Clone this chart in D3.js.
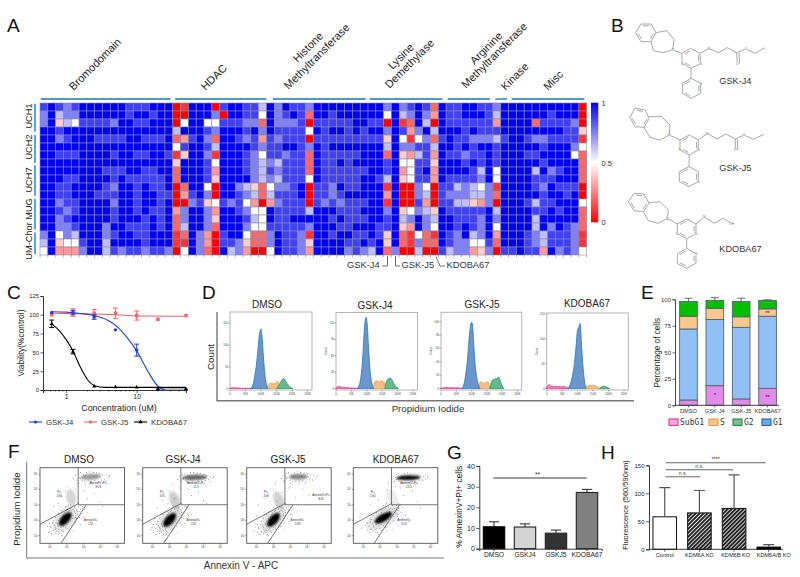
<!DOCTYPE html>
<html><head><meta charset="utf-8">
<script src="https://cdn.jsdelivr.net/npm/d3@7"></script>
<style>html,body{margin:0;padding:0;background:#fff}svg{display:block}text{font-family:"Liberation Sans",Arial,sans-serif}</style>
</head><body><svg id="c" width="800" height="577" viewBox="0 0 800 577"></svg>
<script>
// ---------- A: heat map (digit 0 red .. 5 white .. 9 blue)
const heatRowNames=["UCH1","UCH2","UCH7","MUG","UM-Chor"];
const heatRows=[
"8987899999"+"9888999019"+"9908998869"+"7988799999"+"9999797898"+"2988998879"+"9999999990",
"7967799999"+"9899899009"+"9970998859"+"7898299899"+"9999596797"+"3988999869"+"9999989990",
"7946588887"+"9988999059"+"9558887729"+"7778088888"+"9988091296"+"0988888839"+"9992888870",
"9989999999"+"9999999699"+"9879998979"+"8888598998"+"9899798379"+"6999898889"+"9999999884",
"9978999888"+"8998889238"+"9729987838"+"7888088888"+"8888495157"+"2898877768"+"9987788881",
"9999999999"+"9999999589"+"9869999878"+"8998798999"+"9999697788"+"6998989989"+"9999899975",
"9988899998"+"9988998149"+"9719998758"+"8788298888"+"8999294368"+"3988788989"+"9988999952",
"9999999999"+"9999999499"+"9859998767"+"6888298898"+"9999895588"+"4999898989"+"9999899992",
"9999999988"+"8998899299"+"9839998768"+"7888298888"+"8899893589"+"3999986959"+"9996978992",
"9998899998"+"9888889299"+"9849999767"+"6888598888"+"8998694588"+"3988887959"+"9998889992",
"9988999987"+"9989889029"+"9509976425"+"7789088798"+"8999190075"+"0886765719"+"9998798880",
"9988999888"+"9989988038"+"9709987626"+"8889088789"+"9999390076"+"0877766729"+"9999899890",
"9978899997"+"9989989007"+"8458785303"+"7888087878"+"8899190083"+"0886643709"+"9986889995",
"9987899998"+"9989889379"+"9739987559"+"8888699988"+"8999794576"+"4988888969"+"9998898992",
"9978999998"+"9998989279"+"9749998659"+"8899999898"+"8899896797"+"6998887979"+"9996999992",
"9977899979"+"9888989269"+"9729997558"+"8888799988"+"9998894397"+"5998987959"+"9996979872",
"7957699978"+"9988999129"+"7308995227"+"9887199899"+"8898492152"+"1987967939"+"9987688871",
"6945589969"+"9998999119"+"7308874227"+"9887499998"+"8989492172"+"2987755829"+"9987688871",
"5933379968"+"7887887059"+"7209673005"+"9887399997"+"8769270060"+"0867734708"+"8988397875"];
const heatGroups=[["Bromodomain"],["HDAC"],["Histone","Methyltransferase"],["Lysine","Demethylase"],["Arginine","Methyltransferase"],["Kinase"],["Misc"]];
const heatGroupSpans=[[0.1,16.7],[17.3,29],[29.8,41.7],[42.2,51.5],[52.2,57.6],[58.3,59.8],[60.4,69.7]];
const heatRowSpans=[[0.1,3.6],[4,7.5],[7.8,11.6],[12,15.8],[16.2,18.9]];
// ---------- C: dose response
const concentrations=[0.625,1.25,2.5,5,10,20,50];
const j4Mean=[103,103,97,80,53,1,1], j4Err=[0,3,3,0,8,0,0];
const j5Mean=[100,103,102,102,99,94,99], j5Err=[0,5,5,7,6,0,0];
const kdMean=[88,51,5,4,3.5,1,1], kdErr=[5,3,0,0,0,0,0];
const j4CurveX=[0.625,1,1.5,2.5,4,5,7,10,14,20,25], j4CurveY=[104,103.5,102,99,92,86,72,52,27,5,0];
const j5CurveX=[0.625,1.25,5,10,50], j5CurveY=[102,101.5,100,98.5,98];
const kdCurveX=[0.625,0.8,1,1.25,1.6,2,2.5,3.5,5,10,20,50], kdCurveY=[88,79,67,52,30,14,6,3.5,3.5,3.5,3.5,3.5];
// ---------- D: cell-cycle histograms
const cyclePanels=["DMSO","GSK-J4","GSK-J5","KDOBA67"];
const histYMax=[176,139,114,152];
const histYTicks=[[0,50,100,150],[0,30,60,90,120],[0,20,40,60,80,100],[0,50,100,150]];
const g1X=[[65,70,75,80,85,90,95,100,103,108,112,117,122],[68,73,78,83,87,91,95,98,101,106,110,116,122],[68,72,77,82,87,91,96,100,103,108,113,120,127],[68,73,78,84,90,95,100,105,108,113,118,123,127]];
const g1Y=[[0,3,12,30,55,90,125,137,120,70,35,10,0],[0,3,12,32,60,100,126,130,118,70,35,10,0],[0,2,10,25,45,70,92,99,95,60,30,10,0],[0,3,12,28,52,85,118,125,131,85,40,12,0]];
const sX=[[118,125,132,140,148,155,160],[120,127,134,141,148,156,163],[122,128,134,140,146,153,160],[125,132,140,150,158,165,172]];
const sY=[[0,10,12,11,13,16,0],[0,13,14,12,14,11,0],[0,9,10,7,9,10,0],[0,6,6.6,6,5.5,3,0]];
const g2X=[[150,158,165,172,178,185,192,203],[158,163,168,175,180,186,193,203],[160,167,175,183,190,195,200,206],[170,175,180,185,190,195,200,205]];
const g2Y=[[0,8,17,23,18,10,4,0],[0,12,17,19,17,10,4,0],[0,12,14,15,16.5,10,4,0],[0,2,4,5,4,2,1,0]];
const subX=[0,8,15,25,35,45,55,65,72];
const subY=[[0.5,2,1.5,1,0.5,0.5,0.5,0.5,0],[1,4,3,1.5,1.5,1,1,0.5,0],[0.5,1,1.5,1,1,1,1,0.5,0],[2,8,5,4,4,3.5,4,2,0]];
const histXTicks=[0,50,100,150,200,250];
// ---------- E: stacked bars
const stackLabels=["DMSO","GSK-J4","GSK-J5","KDOBA67"];
const subG1=[5,18.5,6,16], g1=[67,62.5,67.5,68], sPhase=[12,10.5,10,7], g2Phase=[14,7.5,14.5,8];
const subG1Err=[3,6,2,0.6], g1Err=[1,3,1,0.5], sErr=[1,1,1,0.6], g2Err=[3,2.5,3,0.5];
const stackStars=[["","",""],["*","",""],["","",""],["**","","**"]];
const stackLegend=["SubG1","S","G2","G1"];
// ---------- F: annexin / PI flow plots (decades)
const flowPanels=["DMSO","GSK-J4","GSK-J5","KDOBA67"];
const flowPi=["4.66","3.85","4.08","2.60"], flowDouble=["8.19","11.3","9.65","26.3"], flowAnnex=["1.31","2.65","2.69","6.59"];
const flowBlobs=[
[[1.9,2.08,0.5,0.27,-48,1],[1.9,2.08,0.95,0.62,-48,0.1],[2.25,3.5,0.3,0.55,-10,0.16],[3.4,4.82,0.62,0.2,-4,0.38]],
[[2.0,2.03,0.5,0.27,-48,1],[2.0,2.03,0.95,0.62,-48,0.1],[2.3,3.3,0.3,0.6,-20,0.2],[3.48,4.78,0.74,0.19,-2,0.58]],
[[1.99,2.03,0.5,0.27,-48,1],[1.99,2.03,0.95,0.62,-48,0.1],[2.3,3.3,0.3,0.6,-20,0.18],[3.46,4.82,0.56,0.19,-2,0.46]],
[[2.18,2.17,0.58,0.24,-30,1],[2.18,2.17,1.1,0.6,-30,0.1],[2.7,3.5,0.3,0.6,-30,0.08],[3.66,4.76,0.72,0.16,-2,0.95]]];
const flowDots=[
[[0.9,1.2],[1.1,2.2],[1.3,1.4],[1.5,1.1],[0.8,2.0],[1.7,1.0],[2.1,1.2],[2.4,1.3],[2.8,1.7],[3.0,2.2],[2.9,2.8],[3.2,2.5],[3.4,1.9],[1.2,2.9],[1.5,3.1],[1.9,3.9],[2.0,4.2],[2.5,4.0],[2.6,4.4],[3.0,3.9],[3.2,3.4],[3.6,3.7],[3.8,4.2],[4.3,4.6],[4.5,4.9],[2.8,4.7],[3.9,3.2],[4.1,2.9],[3.1,4.3],[3.5,4.3],[1.0,1.6],[1.6,1.7],[2.6,2.1],[2.2,3.0],[2.0,2.9]],
[[0.9,1.4],[1.1,2.1],[1.4,1.3],[1.6,1.0],[0.8,1.9],[1.8,1.1],[2.2,1.3],[2.5,1.2],[2.9,1.8],[3.1,2.3],[3.0,2.9],[3.3,2.4],[3.5,2.0],[1.3,2.8],[1.6,3.3],[2.0,3.9],[2.2,4.3],[2.6,4.1],[2.7,4.5],[3.1,4.0],[3.3,3.6],[3.7,3.8],[3.9,4.3],[4.4,4.5],[4.6,4.8],[2.8,4.7],[4.0,3.3],[4.2,3.1],[3.2,4.4],[3.6,4.4],[1.0,1.7],[1.7,1.6],[2.7,2.2],[2.3,3.4],[1.9,3.1]],
[[0.8,1.3],[1.0,2.3],[1.3,1.2],[1.5,1.3],[0.9,1.8],[1.7,1.0],[2.3,1.2],[2.6,1.4],[2.9,1.9],[3.0,2.4],[2.9,2.7],[3.4,2.6],[3.6,1.8],[1.1,3.0],[1.5,3.4],[2.0,4.0],[2.1,4.4],[2.5,3.8],[2.6,4.5],[2.9,4.1],[3.3,3.5],[3.7,4.0],[3.9,4.4],[4.3,4.6],[4.7,3.4],[2.7,4.8],[3.9,3.0],[4.1,3.6],[3.0,4.4],[3.5,4.4],[1.1,1.5],[1.7,1.8],[2.6,2.3],[2.2,3.2],[1.9,3.0]],
[[0.9,1.5],[1.2,2.4],[1.4,1.4],[1.7,1.2],[0.8,2.2],[1.9,1.1],[2.4,1.3],[2.7,1.4],[3.1,1.7],[3.3,2.1],[3.1,2.8],[3.5,2.3],[3.7,1.9],[1.4,3.0],[1.9,3.3],[2.4,4.0],[2.5,4.4],[2.9,4.2],[2.8,4.5],[3.2,4.1],[3.4,3.6],[3.9,3.9],[4.1,4.3],[4.5,4.6],[4.7,4.9],[2.9,4.8],[4.2,3.2],[4.4,2.8],[3.4,4.4],[3.8,4.3],[1.2,1.8],[1.8,1.9],[3.0,2.4],[2.7,3.0],[2.3,3.0]]];
// hand-placed speckle around the two clusters (offsets in decades from each cluster centre)
const coreSpeckle=[[-0.95,-0.8],[-0.8,-0.95],[-0.85,-0.55],[-0.7,-0.75],[-0.65,-0.4],[-0.6,-0.9],[-0.55,-0.6],[-0.5,-0.25],[-0.5,-0.78],[-0.42,-0.45],[-0.4,-0.1],[-0.38,-0.68],[-0.3,-0.3],[-0.3,0.05],[-0.25,-0.55],[-0.2,-0.72],[-0.18,0.2],[-0.12,0.32],[-0.1,-0.45],[-0.05,0.45],[0,-0.52],[0.05,0.55],[0.1,-0.35],[0.12,0.62],[0.2,-0.22],[0.22,0.5],[0.3,0.7],[0.32,-0.12],[0.38,0.4],[0.42,0.05],[0.45,0.62],[0.5,0.22],[0.55,0.78],[0.6,0.38],[0.62,0.1],[0.68,0.6],[0.72,0.3],[0.78,0.78],[0.82,0.5],[0.88,0.9],[0.92,0.62],[1.0,0.82],[-1.05,-0.5],[-0.95,-0.3],[-0.72,-0.12],[-0.58,0.12],[-0.4,0.35],[-0.22,0.55],[0.02,0.78],[0.2,0.92],[-0.35,-0.95],[-0.1,-0.82],[0.15,-0.62],[0.4,-0.4],[0.62,-0.2],[0.85,0.1],[1.05,0.35],[1.15,0.65],[-0.75,-0.28],[-0.28,-0.18],[0.28,0.2],[0.55,0.52],[-0.6,-0.52],[-0.45,-0.32],[0.35,0.55],[0.7,0.48]];
const topSpeckle=[[-1.0,-0.12],[-0.9,0.1],[-0.82,-0.22],[-0.72,0.2],[-0.65,-0.05],[-0.58,0.28],[-0.5,-0.25],[-0.42,0.12],[-0.35,-0.3],[-0.25,0.3],[-0.15,-0.28],[-0.05,0.32],[0.05,-0.32],[0.15,0.28],[0.25,-0.25],[0.35,0.25],[0.45,-0.3],[0.55,0.2],[0.65,-0.2],[0.72,0.12],[0.82,-0.15],[0.92,0.08],[1.02,-0.08],[1.12,0.05],[-0.3,0.05],[0.2,0.02],[0.6,-0.02],[-0.7,-0.12]];
const flowTicks=[1,2,3,4,5];
// ---------- G
const annexCats=["DMSO","GSKJ4","GSKJ5","KDOBA67"], annexVals=[10.6,10.5,7.5,27.2], annexErr=[2.4,1.5,1.5,1.5];
const annexFills=["#000","#d4d4d4","#333","#808080"];
// ---------- H
const fluorCats=["Control","KDM6A KO","KDM6B KO","KDM6A/B KO"], fluorVals=[58,65,73,4], fluorTop=[110,105,133,8.5];
const fluorSig=[["n.s.",1,125],["n.s.",2,138],["****",3,150]];

// ============ drawing ============
const svg=d3.select("#c");
const defs=svg.append("defs");
const txt=(t,x,y,size,opt={})=>{const e=svg.append("text").attr("x",x).attr("y",y).attr("font-size",size).attr("fill",opt.fill||"#222").attr("text-anchor",opt.anchor||"start").text(t);
 if(opt.rot!=null)e.attr("transform",`rotate(${opt.rot} ${x} ${y})`); if(opt.fam)e.style("font-family",opt.fam); return e;};
[["A",7,32],["B",611,32],["C",7,299],["D",202,299],["E",641,299],["F",8,458],["G",447,459],["H",601,459]].forEach(d=>txt(d[0],d[1],d[2],19,{fill:"#111"}));

// --- A
const cellW=7.81,cellH=8.0,hx0=40,hy0=103;
const heatX=d3.scaleLinear().domain([0,70]).range([hx0,hx0+70*cellW]);
const heatY=d3.scaleLinear().domain([0,19]).range([hy0,hy0+19*cellH]);
const digitValue=d=>d<=5?d/10:0.5+(d-5)/8;
const heatColor=d3.scaleLinear().domain([0,0.5,1]).range(["#ff0000","#ffffff","#0000f4"]);
const heatCells=heatRows.flatMap((r,i)=>r.split("").map((c,j)=>({i,j,v:digitValue(+c)})));
svg.append("g").selectAll("rect").data(heatCells).join("rect")
 .attr("x",d=>heatX(d.j)).attr("y",d=>heatY(d.i)).attr("width",cellW).attr("height",cellH)
 .attr("fill",d=>heatColor(d.v)).attr("stroke","#8a8aa0").attr("stroke-width",0.6);
svg.append("g").selectAll("line").data(d3.range(71)).join("line").attr("x1",d=>heatX(d)).attr("x2",d=>heatX(d)).attr("y1",255).attr("y2",257.5).attr("stroke","#999").attr("stroke-width",0.7);
const barBlue="#4b9bcf";
heatGroupSpans.forEach(s=>svg.append("line").attr("x1",heatX(s[0])).attr("x2",heatX(s[1])).attr("y1",99).attr("y2",99).attr("stroke",barBlue).attr("stroke-width",1.8));
heatRowSpans.forEach(s=>svg.append("line").attr("x1",35).attr("x2",35).attr("y1",heatY(s[0])).attr("y2",heatY(s[1])).attr("stroke",barBlue).attr("stroke-width",1.8));
const rowLabelY=[116,147,180,209,241];
heatRowNames.forEach((n,i)=>txt(n,32,rowLabelY[i],9.2,{anchor:"middle",rot:-90}));
const groupLabelPos=[[[73.5,91]],[[205.5,91]],[[297.5,63],[288.5,90]],[[392.5,70],[389.5,89]],[[474.5,65],[466,89]],[[505.5,91]],[[548,91]]];
heatGroups.forEach((lines,g)=>lines.forEach((l,k)=>txt(l,groupLabelPos[g][k][0],groupLabelPos[g][k][1],11,{rot:-45})));
// colour bar
const grad=defs.append("linearGradient").attr("id","cbar").attr("x1",0).attr("x2",0).attr("y1",0).attr("y2",1);
[1,0.5,0].forEach(v=>grad.append("stop").attr("offset",1-v).attr("stop-color",heatColor(v)));
svg.append("rect").attr("x",591).attr("y",102.7).attr("width",7.3).attr("height",119.6).attr("fill","url(#cbar)");
const cbarY=d3.scaleLinear().domain([0,1]).range([222,103]);
[[1,"1"],[0.5,"0.5"],[0,"0"]].forEach(d=>txt(d[1],601.5,cbarY(d[0])+3,7.5,{fill:"#333"}));
// callouts
txt("GSK-J4",347,268,9.3,{fill:"#333"}); txt("GSK-J5",401.5,268,9.3,{fill:"#333"}); txt("KDOBA67",446.5,268,9.3,{fill:"#333"});
[[[387.5,256],[387.5,266],[382,266]],[[395.5,256],[395.5,266],[400,266]],[[436,256.5],[440,266],[445,266]]].forEach(p=>svg.append("path").attr("d",d3.line()(p)).attr("fill","none").attr("stroke","#333").attr("stroke-width",0.7));

// --- B molecules (outline in reference pixels)
const molStroke="#a8a8a8";
const molG=svg.append("g").attr("transform","translate(590,0) scale(0.3333)").attr("fill","none").attr("stroke",molStroke).attr("stroke-width",3);
const ring=(pts,doubles)=>{molG.append("path").attr("d",d3.line()(pts)+"Z");
 const c=[d3.mean(pts,p=>p[0]),d3.mean(pts,p=>p[1])],n=pts.length;
 doubles.forEach(i=>{const a=pts[i],b=pts[(i+1)%n],sh=p=>[p[0]+(c[0]-p[0])*0.2,p[1]+(c[1]-p[1])*0.2];const A=sh(a),B=sh(b);
  molG.append("line").attr("x1",A[0]+(B[0]-A[0])*.12).attr("y1",A[1]+(B[1]-A[1])*.12).attr("x2",B[0]-(B[0]-A[0])*.12).attr("y2",B[1]-(B[1]-A[1])*.12);});};
const path=pts=>molG.append("path").attr("d",d3.line()(pts));
const atom=(p,t)=>{svg.append("circle").attr("cx",590+p[0]/3).attr("cy",p[1]/3).attr("r",1.5).attr("fill","#fff");
 txt(t,590+p[0]/3,p[1]/3+1.2,3.4,{anchor:"middle",fill:"#666"});};
const mols=[
 {benz:[[153,72],[183,72],[198,98],[183,125],[153,125],[137,98]],aze:[[198,98],[230,92],[252,118],[248,150],[218,158],[190,152],[183,125]],py:[[275,160],[302,145],[330,160],[332,190],[303,205],[277,190]],pd:[[303,235],[332,250],[332,280],[303,295],[278,280],[278,250]],
  chain:[[330,160],[357,145],[385,158],[412,143],[440,158],[468,147],[495,160],[525,143]],co:[[440,158],[442,190]],nPd:1,o:5},
 {benz:[[135,325],[165,330],[178,355],[162,382],[135,380],[120,352]],aze:[[178,350],[215,350],[240,375],[238,405],[210,420],[180,412],[162,382]],py:[[270,420],[298,405],[325,420],[325,450],[298,465],[270,450]],pd:[[297,500],[325,515],[325,545],[297,560],[268,545],[268,515]],
  chain:[[325,420],[352,400],[380,417],[408,402],[436,417],[462,405],[490,418],[522,403]],co:[[436,417],[436,450]],nPd:2,o:5},
 {benz:[[132,580],[162,582],[177,610],[160,635],[132,632],[115,605]],aze:[[177,608],[210,605],[235,630],[232,655],[205,670],[175,662],[160,635]],py:[[262,672],[290,657],[318,672],[318,700],[290,717],[262,700]],pd:[[290,745],[318,762],[318,790],[290,805],[262,790],[262,762]],
  chain:[[318,672],[343,650],[372,670],[400,655],[425,670]],co:null,nPd:1,o:null}];
mols.forEach(m=>{ring(m.benz,[0,2,4]);path(m.aze);ring(m.py,[0,2,4]);ring(m.pd,[1,3,5]);path(m.chain);path([m.aze[3],m.py[0]]);path([m.py[4],m.pd[0]]);
 if(m.co){path(m.co);path(m.co.map(p=>[p[0]+7,p[1]]));}
 atom(m.aze[3],"N");atom(m.py[3],"N");atom(m.py[5],"N");atom(m.pd[m.nPd],"N");atom(m.chain[1],"N");
 if(m.o){atom(m.chain[m.o],"O");atom(m.co[1],"O");}});
atom(mols[2].chain[4],"OH");
txt("GSK-J4",719.3,84,9.2,{fill:"#333"}); txt("GSK-J5",719.3,171,9.2,{fill:"#333"}); txt("KDOBA67",719.3,252,9.2,{fill:"#333"});

// --- axis styling
const styleAxis=(g,fs,col="#222",sw=0.9)=>{g.selectAll("path").attr("stroke",col).attr("stroke-width",sw);g.selectAll("line").attr("stroke",col).attr("stroke-width",sw*0.8);g.selectAll("text").attr("font-size",fs).attr("fill",col).style("font-family",'"Liberation Sans",Arial,sans-serif');return g;};

// --- C
const cx=d3.scaleLog().domain([0.47,50]).range([43,186]);
const cy=d3.scaleLinear().domain([0,125]).range([390,296]);
styleAxis(svg.append("g").attr("transform","translate(43,0)").call(d3.axisLeft(cy).tickValues([0,25,50,75,100,125]).tickSize(2.5).tickPadding(1.5)),5.8);
styleAxis(svg.append("g").attr("transform","translate(0,390)").call(d3.axisBottom(cx).tickValues([1,10]).tickFormat(d3.format("d")).tickSize(3).tickPadding(1.5)),6.5);
const minorC=[0.5,0.6,0.7,0.8,0.9,2,3,4,5,6,7,8,9,20,30,40,50];
svg.append("g").selectAll("line").data(minorC).join("line").attr("x1",d=>cx(d)).attr("x2",d=>cx(d)).attr("y1",390).attr("y2",391.7).attr("stroke","#222").attr("stroke-width",0.6);
const cLine=d3.line().x(d=>cx(d[0])).y(d=>cy(d[1])).curve(d3.curveMonotoneX);
svg.append("rect").attr("x",cx(20)).attr("width",cx(50)-cx(20)).attr("y",cy(3.5)).attr("height",cy(0)-cy(3.5)).attr("fill","#b8b8b8");
const cSeries=[["#ff6060",j5CurveX,j5CurveY,j5Mean,j5Err,"square"],["#1f3fe0",j4CurveX,j4CurveY,j4Mean,j4Err,"circle"],["#000",kdCurveX,kdCurveY,kdMean,kdErr,"triangle"]];
cSeries.forEach(([col,xs,ys,m,e,sym])=>{
 svg.append("path").attr("d",cLine(xs.map((x,i)=>[x,ys[i]]))).attr("fill","none").attr("stroke",col).attr("stroke-width",1.1);
 concentrations.forEach((c,i)=>{const X=cx(c);
  if(e[i]>0){const p=`M${X},${cy(m[i]-e[i])}V${cy(m[i]+e[i])}M${X-2.5},${cy(m[i]-e[i])}h5M${X-2.5},${cy(m[i]+e[i])}h5`;svg.append("path").attr("d",p).attr("stroke",col).attr("stroke-width",1).attr("fill","none");}
  svg.append("path").attr("d",d3.symbol().type(sym==="square"?d3.symbolSquare:sym==="circle"?d3.symbolCircle:d3.symbolTriangle).size(sym==="square"?12:sym==="triangle"?7:9)()).attr("transform",`translate(${X},${cy(m[i])})`).attr("fill",col);});});
txt("Concentration (uM)",119,411,8.8,{anchor:"middle"}); txt("Viability(%control)",24,343,8.4,{anchor:"middle",rot:-90});
[[29,46,"#1f3fe0","GSK-J4",d3.symbolCircle],[84,101,"#ff6060","GSK-J5",d3.symbolSquare],[134,151,"#000","KDOBA67",d3.symbolTriangle]].forEach(([a,b,c,t,s])=>{
 svg.append("line").attr("x1",a).attr("x2",a+13).attr("y1",422).attr("y2",422).attr("stroke",c).attr("stroke-width",1.1);
 svg.append("path").attr("d",d3.symbol().type(s).size(8)()).attr("transform",`translate(${a+6.5},422)`).attr("fill",c); txt(t,b,425,7.8,{fill:"#333"});});

// --- D
svg.append("path").attr("d","M217,312V400.7H634").attr("fill","none").attr("stroke","#777").attr("stroke-width",1.4);
txt("Count",214,357,9.8,{anchor:"middle",rot:-90}); txt("Propidium Iodide",428,412,9.7,{anchor:"middle",fill:"#333"});
const histBox=[[230,312],[336,312.5],[441,312.3],[546.7,313]], histBoxW=[82,81.5,80.7,81.6];
const histTitleX=[267,375,482,587], histTitleY=[308,309,307.7,307];
const phases=[[subX,null,"#f080b8","#ee3a9a"],[sX,sY,"#f6be84","#e8a040"],[g2X,g2Y,"#66b98c","#1f9a5c"],[g1X,g1Y,"#6a96cc","#1e78c0"]];
cyclePanels.forEach((name,p)=>{const [bx,by]=histBox[p],w=histBoxW[p],bot=390;
 txt(name,histTitleX[p],histTitleY[p],10,{anchor:"middle"});
 svg.append("rect").attr("x",bx).attr("y",by).attr("width",w).attr("height",bot-by).attr("fill","#fff").attr("stroke","#b5b5b5").attr("stroke-width",1);
 const X=d3.scaleLinear().domain([0,264]).range([bx,bx+w]);
 const Y=d3.scaleLinear().domain([0,histYMax[p]]).range([bot-1.5,by]);
 const phaseOrder=[[subX,subY[p],phases[0]],[sX[p],sY[p],phases[1]],[g2X[p],g2Y[p],phases[2]],[g1X[p],g1Y[p],phases[3]]];
 phaseOrder.forEach(([xs,ys,st])=>{const a=d3.area().x((d,i)=>X(xs[i])).y0(Y(0)).y1(d=>Y(d)).curve(d3.curveMonotoneX);
  svg.append("path").attr("d",a(ys)).attr("fill",st[2]).attr("stroke",st[3]).attr("stroke-width",0.8);});
 histYTicks[p].forEach(t=>{svg.append("line").attr("x1",bx-1.5).attr("x2",bx).attr("y1",Y(t)).attr("y2",Y(t)).attr("stroke","#555").attr("stroke-width",0.5);
  txt(t,bx-2,Y(t)+1,2.8,{anchor:"end",fill:"#444"});});
 histXTicks.forEach(t=>{svg.append("line").attr("x1",X(t)).attr("x2",X(t)).attr("y1",bot).attr("y2",bot+1.5).attr("stroke","#555").attr("stroke-width",0.5);
  txt(t?t+"K":"0",X(t),bot+4.5,2.8,{anchor:"middle",fill:"#444"});});
 if(p>0)txt("Count",bx-9,(by+bot)/2,2.8,{anchor:"middle",rot:-90,fill:"#444"});
});

// --- E
const eY=d3.scaleLinear().domain([0,100]).range([405.3,299.3]);
const eX=d3.scaleBand().domain(stackLabels).range([677,779]).paddingInner(0.33).paddingOuter(0.1);
const stackCols=["#e18ce9","#90c0f6","#f9c68e","#00c000"];
stackLabels.forEach((l,i)=>{let base=0;[[subG1,subG1Err],[g1,g1Err],[sPhase,sErr],[g2Phase,g2Err]].forEach(([arr,err],k)=>{
 const v=arr[i],X=eX(l),w=eX.bandwidth(),mid=X+w/2;
 svg.append("rect").attr("x",X).attr("width",w).attr("y",eY(base+v)).attr("height",eY(base)-eY(base+v)).attr("fill",stackCols[k]).attr("stroke","#55636e").attr("stroke-width",0.9);
 const top=base+v;svg.append("path").attr("d",`M${mid},${eY(top)}V${eY(top+err[i])}M${mid-4},${eY(top+err[i])}h8`).attr("stroke","#333").attr("stroke-width",0.7).attr("fill","none");
 const star=stackStars[i][k===0?0:k===2?2:1];
 if(star&&k!==1){txt(star,mid,eY(base+v/2)+2,5.5,{anchor:"middle",fill:"#111"});}
 base=top;});});
styleAxis(svg.append("g").attr("transform","translate(675,0)").call(d3.axisLeft(eY).tickValues([0,25,50,75,100]).tickSize(2.5).tickPadding(1.5)),6,"#333");
styleAxis(svg.append("g").attr("transform","translate(0,405.3)").call(d3.axisBottom(eX).tickSize(2).tickPadding(1.5)),5.7,"#333").select(".domain").attr("d","M675,0H779");
txt("Percentage of cells",660,352.7,8.2,{anchor:"middle",rot:-90});
[[669,680,"#f6a9d4","#ea2aa2"],[709,720,"#f8c791","#ec9a3e"],[733,744,"#74c08f","#168a4a"],[762,773,"#76a6dc","#1565c0"]].forEach(([a,b,f,s],i)=>{
 svg.append("rect").attr("x",a).attr("y",419).attr("width",9).attr("height",6.4).attr("fill",f).attr("stroke",s).attr("stroke-width",1.1);
 txt(stackLegend[i],b,425,8,{fam:'"DejaVu Sans Mono",monospace',fill:"#333"});});

// --- F
svg.append("path").attr("d","M26.7,461.7V558H444").attr("fill","none").attr("stroke","#777").attr("stroke-width",1);
txt("Propidium Iodide",20,509,9.8,{anchor:"middle",rot:-90}); txt("Annexin V - APC",241,569,10,{anchor:"middle",fill:"#333"});
const fb=defs.append("filter").attr("id","blur").attr("x","-60%").attr("y","-60%").attr("width","220%").attr("height","220%");fb.append("feGaussianBlur").attr("stdDeviation",1);
const flowX0=[40,142.7,246.7,353.3],flowW=84.5,flowTop=467.7,flowH=75.6,titleX=[79,183,288,395.7],dblLabel=[[.69,.215],[.63,.215],[.88,.38],[.66,.215]];
flowPanels.forEach((name,p)=>{const x0=flowX0[p];
 txt(name,titleX[p],463,10,{anchor:"middle"});
 const X=d3.scaleLinear().domain([0.405,5.405]).range([x0,x0+flowW]);
 const Y=d3.scaleLinear().domain([0.51,5.41]).range([flowTop+flowH,flowTop]);
 const cid="clip"+p;defs.append("clipPath").attr("id",cid).append("rect").attr("x",x0).attr("y",flowTop).attr("width",flowW).attr("height",flowH);
 const g=svg.append("g").attr("clip-path",`url(#${cid})`);
 const bl=g.append("g").attr("filter","url(#blur)");
 [1,0,2,3].forEach(i=>{const b=flowBlobs[p][i];
  bl.append("ellipse").attr("cx",X(b[0])).attr("cy",Y(b[1])).attr("rx",b[2]*flowW/5).attr("ry",b[3]*flowH/4.9).attr("fill","#000").attr("opacity",b[5]).attr("transform",`rotate(${b[4]} ${X(b[0])} ${Y(b[1])})`);});
 const core=flowBlobs[p][0],top=flowBlobs[p][3];
 const dots=flowDots[p].concat(coreSpeckle.map(d=>[core[0]+d[0],core[1]+d[1]]),topSpeckle.map(d=>[top[0]+d[0],top[1]+d[1]]));
 g.append("g").selectAll("circle").data(dots).join("circle").attr("cx",d=>X(d[0])).attr("cy",d=>Y(d[1])).attr("r",0.42).attr("fill","#333");
 const fx=f=>x0+f*flowW,fy=f=>flowTop+f*flowH;
 svg.append("path").attr("d",`M${fx(.452)},${fy(0)}V${fy(.49)}M${fx(.452)},${fy(.49)}H${fx(1)}M${fx(0)},${fy(.749)}L${fx(.46)},${fy(.47)}M${fx(.248)},${fy(1)}L${fx(.548)},${fy(.49)}`).attr("fill","none").attr("stroke","#555").attr("stroke-width",0.8);
 svg.append("rect").attr("x",x0).attr("y",flowTop).attr("width",flowW).attr("height",flowH).attr("fill","none").attr("stroke","#555").attr("stroke-width",0.9);
 flowTicks.forEach(t=>{svg.append("line").attr("x1",X(t)).attr("x2",X(t)).attr("y1",flowTop+flowH).attr("y2",flowTop+flowH+1.5).attr("stroke","#444").attr("stroke-width",0.5);
  svg.append("line").attr("x1",x0-1.5).attr("x2",x0).attr("y1",Y(t)).attr("y2",Y(t)).attr("stroke","#444").attr("stroke-width",0.5);
  txt("10"+"¹²³⁴⁵"[t-1],X(t),flowTop+flowH+5,2.8,{anchor:"middle",fill:"#333"});txt("10"+"¹²³⁴⁵"[t-1],x0-2,Y(t)+1,2.8,{anchor:"end",fill:"#333"});});
 const small=(a,b,f1,f2)=>{txt(a,fx(f1),fy(f2),2.8,{anchor:"middle",fill:"#333"});txt(b,fx(f1),fy(f2)+4,2.8,{anchor:"middle",fill:"#333"});};
 small("Pi+",flowPi[p],.23,.34);small("AnnexinV+Pi+",flowDouble[p],dblLabel[p][0],dblLabel[p][1]);small("AnnexinV+",flowAnnex[p],.6,.71);
});

// --- G
const gY=d3.scaleLinear().domain([0,40]).range([548.7,466]);
const gX=d3.scaleBand().domain(annexCats).range([479.3,601.7]).paddingInner(0.31).paddingOuter(0.13);
annexCats.forEach((c,i)=>{const X=gX(c),w=gX.bandwidth(),mid=X+w/2,T=annexVals[i]+annexErr[i];
 svg.append("path").attr("d",`M${mid},${gY(annexVals[i])}V${gY(T)}M${mid-5},${gY(T)}h10`).attr("stroke","#222").attr("stroke-width",1).attr("fill","none");
 svg.append("rect").attr("x",X).attr("y",gY(annexVals[i])).attr("width",w).attr("height",gY(0)-gY(annexVals[i])).attr("fill",annexFills[i]).attr("stroke",i?"#222":"#000").attr("stroke-width",1.1);});
styleAxis(svg.append("g").attr("transform","translate(479.3,0)").call(d3.axisLeft(gY).tickValues([0,10,20,30,40]).tickSize(3).tickPadding(1.5)),7,"#222");
styleAxis(svg.append("g").attr("transform","translate(0,548.7)").call(d3.axisBottom(gX).tickSize(2.5).tickPadding(1.5)),6.7,"#222");
txt("% AnnexinV+PI+ cells",462.5,506.7,8.4,{anchor:"middle",rot:-90});
svg.append("line").attr("x1",493.3).attr("x2",586.7).attr("y1",478).attr("y2",478).attr("stroke","#222").attr("stroke-width",0.9);
txt("**",537.5,476.5,6.5,{anchor:"middle"});

// --- H
const hY=d3.scaleLinear().domain([0,150]).range([549.3,465.3]);
const hX=d3.scaleBand().domain(fluorCats).range([649.5,784]).paddingInner(0.32).paddingOuter(0.1);
const hp=defs.append("pattern").attr("id","hatch").attr("patternUnits","userSpaceOnUse").attr("width",2.8).attr("height",2.8).attr("patternTransform","rotate(45)");
hp.append("rect").attr("width",2.8).attr("height",2.8).attr("fill","#fff");hp.append("rect").attr("width",2).attr("height",2.8).attr("fill","#222");
const hFill=["#fff","url(#hatch)","url(#hatch)","#000"];
fluorCats.forEach((c,i)=>{const X=hX(c),w=hX.bandwidth(),mid=X+w/2;
 svg.append("rect").attr("x",X).attr("y",hY(fluorVals[i])).attr("width",w).attr("height",hY(0)-hY(fluorVals[i])).attr("fill",hFill[i]).attr("stroke","#111").attr("stroke-width",1);
 svg.append("path").attr("d",`M${mid},${hY(fluorVals[i])}V${hY(fluorTop[i])}M${mid-5.5},${hY(fluorTop[i])}h11`).attr("stroke","#555").attr("stroke-width",1.2).attr("fill","none");});
styleAxis(svg.append("g").attr("transform","translate(649,0)").call(d3.axisLeft(hY).tickValues([0,50,100,150]).tickSize(3).tickPadding(1.5)),6,"#222");
const hAxis=styleAxis(svg.append("g").attr("transform","translate(0,549.3)").call(d3.axisBottom(hX).tickSize(2.5).tickPadding(1.5)),5.6,"#222");
hAxis.select(".domain").attr("d","M649,0H783");
hAxis.selectAll(".tick text").attr("dx",(d,i)=>[0,0,1.5,5][i]);
txt("Fluorescence (560/590nm)",628,505,7.5,{anchor:"middle",rot:-90});
const sigEnd=[700,733,765.7],sigY=[476.7,469.7,462.7];
fluorSig.forEach((s,i)=>{svg.append("line").attr("x1",665.7).attr("x2",sigEnd[i]).attr("y1",sigY[i]).attr("y2",sigY[i]).attr("stroke","#666").attr("stroke-width",1.1);
 txt(s[0],(665.7+sigEnd[i])/2,sigY[i]-1.5,i==2?5.5:5,{anchor:"middle",fill:"#333"});});
</script></body></html>
